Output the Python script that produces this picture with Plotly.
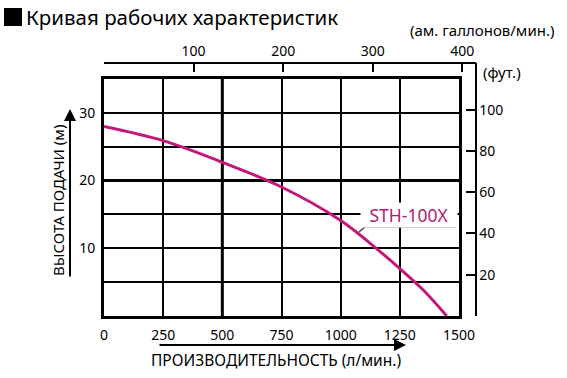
import plotly.graph_objects as go

# ---- data ----
flow_lpm = [0, 250, 500, 750, 1000, 1150, 1250, 1350, 1448]
head_m = [28.0, 25.9, 22.7, 19.05, 14.1, 10.0, 7.0, 3.8, 0.0]
series_name = "STH-100X"

x_ticks = [0, 250, 500, 750, 1000, 1250, 1500]
y_ticks = [0, 5, 10, 15, 20, 25, 30, 35]
y_ticklabels = ["", "", "10", "", "20", "", "30", ""]
gal_ticks = [100, 200, 300, 400]
ft_ticks = [20, 40, 60, 80, 100]

LPM_PER_GAL = 3.78541
FT_PER_M = 3.28084

# ---- layout geometry (pixels) ----
W, H = 567, 378
L, R, T, B = 104, 459, 79, 316
TOP_AX_Y = 63
RIGHT_AX_X = 475.5

def px(x):
    return x / W

def py(y):
    return 1 - y / H

X_MAX, Y_MAX = 1500, 35
ppx = (R - L) / X_MAX        # pixels per l/min
ppy = (B - T) / Y_MAX        # pixels per m
gal_max = (RIGHT_AX_X - L) / (ppx * LPM_PER_GAL)
ft_max = (B - TOP_AX_Y) / (ppy / FT_PER_M)

FONT = "Noto Sans"
CURVE = "#c4177a"

fig = go.Figure()
fig.add_trace(go.Scatter(x=flow_lpm, y=head_m, mode="lines",
                         line=dict(color=CURVE, width=3, shape="spline", smoothing=1.0),
                         hoverinfo="skip", showlegend=False))
# invisible helper traces so the secondary axes are drawn
fig.add_trace(go.Scatter(x=[f / LPM_PER_GAL for f in flow_lpm], y=head_m, xaxis="x2", yaxis="y3",
                         mode="lines", line=dict(width=0), opacity=0, hoverinfo="skip", showlegend=False))
fig.add_trace(go.Scatter(x=flow_lpm, y=[h * FT_PER_M for h in head_m], xaxis="x3", yaxis="y2",
                         mode="lines", line=dict(width=0), opacity=0, hoverinfo="skip", showlegend=False))

fig.update_layout(
    width=W, height=H,
    margin=dict(l=0, r=0, t=0, b=0, pad=0, autoexpand=False),
    showlegend=False,
    paper_bgcolor="white", plot_bgcolor="rgba(0,0,0,0)",
    font=dict(family=FONT, color="black", size=14),
    xaxis=dict(domain=[px(L), px(R)], range=[0, X_MAX], tickvals=x_ticks,
               showgrid=True, gridcolor="black", gridwidth=2,
               showline=True, linecolor="black", linewidth=3, mirror=True,
               ticks="", zeroline=False, tickfont=dict(size=14, family=FONT), ticklabelstandoff=4,
               automargin=False),
    yaxis=dict(domain=[py(B), py(T)], range=[0, Y_MAX], tickvals=y_ticks, ticktext=y_ticklabels,
               showgrid=True, gridcolor="black", gridwidth=2,
               showline=True, linecolor="black", linewidth=3, mirror=True,
               ticks="", zeroline=False, tickfont=dict(size=14, family=FONT), ticklabelstandoff=3,
               automargin=False),
    xaxis2=dict(domain=[px(L), px(RIGHT_AX_X)], range=[0, gal_max], tickvals=gal_ticks,
                side="top", anchor="free", position=py(TOP_AX_Y),
                showgrid=False, zeroline=False, showline=True, linecolor="black", linewidth=2,
                ticks="inside", ticklen=8, tickwidth=2, tickcolor="black",
                tickfont=dict(size=14, family=FONT), automargin=False),
    yaxis3=dict(domain=[py(B), py(TOP_AX_Y)], range=[0, ft_max], visible=False),
    yaxis2=dict(domain=[py(B), py(TOP_AX_Y)], range=[0, ft_max], tickvals=ft_ticks,
                side="right", anchor="free", position=px(RIGHT_AX_X),
                showgrid=False, zeroline=False, showline=True, linecolor="black", linewidth=2,
                ticks="inside", ticklen=9, tickwidth=2, tickcolor="black",
                tickfont=dict(size=14, family=FONT), automargin=False),
    xaxis3=dict(domain=[px(L), px(RIGHT_AX_X)], range=[0, X_MAX], visible=False),
)

# thicker grid lines
fig.add_shape(type="line", xref="x", yref="y", x0=500, x1=500, y0=0, y1=Y_MAX,
              line=dict(color="black", width=3), layer="below")
fig.add_shape(type="line", xref="x", yref="y", x0=0, x1=X_MAX, y0=20, y1=20,
              line=dict(color="black", width=3), layer="below")

# leader line for series label
lead_x0, lead_y0 = (359 - L) / ppx, (B - 232) / ppy
lead_x1, lead_y1 = (365 - L) / ppx, (B - 226.7) / ppy
lead_x2 = (456 - L) / ppx
fig.add_shape(type="line", xref="x", yref="y", x0=lead_x0, y0=lead_y0, x1=lead_x1, y1=lead_y1,
              line=dict(color="#444", width=1.5))
fig.add_shape(type="line", xref="x", yref="y", x0=lead_x1, y0=lead_y1, x1=lead_x2, y1=lead_y1,
              line=dict(color="#444", width=1.5))
fig.add_annotation(x=px(409), y=py(215), xref="paper", yref="paper", xanchor="center", yanchor="middle",
                   text=series_name, showarrow=False, bgcolor="white", width=94, height=22,
                   font=dict(size=17.5, color="#b01c70", family=FONT))

# title with black square marker
fig.add_shape(type="rect", xref="paper", yref="paper", x0=px(4), x1=px(22), y0=py(26), y1=py(8),
              fillcolor="black", line=dict(width=0))
fig.add_annotation(x=px(24), y=py(17), xref="paper", yref="paper", xanchor="left", yanchor="middle",
                   text="Кривая рабочих характеристик", showarrow=False,
                   font=dict(size=20.5, family=FONT, color="black"))
# unit labels
fig.add_annotation(x=px(556), y=py(30), xref="paper", yref="paper", xanchor="right", yanchor="middle",
                   text="(ам. галлонов/мин.)", showarrow=False, font=dict(size=15, family=FONT))
fig.add_annotation(x=px(481), y=py(72), xref="paper", yref="paper", xanchor="left", yanchor="middle",
                   text="(фут.)", showarrow=False, font=dict(size=15, family=FONT))

# axis titles with arrows
fig.add_annotation(x=px(58), y=py(201), xref="paper", yref="paper", xanchor="center", yanchor="middle",
                   textangle=-90, text="ВЫСОТА ПОДАЧИ (м)", showarrow=False,
                   font=dict(size=15, family=FONT))
fig.add_annotation(x=px(70), y=py(109), xref="paper", yref="paper", ax=0, ay=278 - 109,
                   text="", showarrow=True,
                   arrowhead=2, arrowsize=1.2, arrowwidth=2, arrowcolor="black")
fig.add_annotation(x=px(276), y=py(360), xref="paper", yref="paper", xanchor="center", yanchor="middle",
                   text="ПРОИЗВОДИТЕЛЬНОСТЬ (л/мин.)", showarrow=False, font=dict(size=15.5, family=FONT))
fig.add_annotation(x=px(406), y=py(345), xref="paper", yref="paper", ax=-(406 - 158), ay=0,
                   text="", showarrow=True,
                   arrowhead=2, arrowsize=1.2, arrowwidth=2, arrowcolor="black")

fig.write_html("out.html")
